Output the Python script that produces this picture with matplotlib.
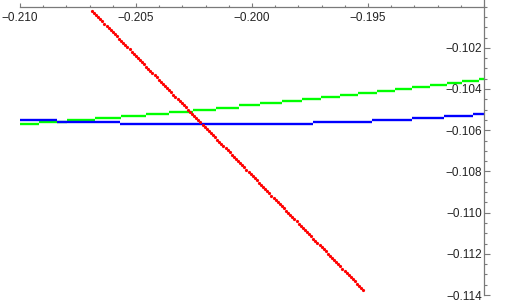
import matplotlib
matplotlib.use("Agg")
import matplotlib.pyplot as plt
from matplotlib.ticker import MultipleLocator

plt.rcParams['font.family'] = ['Liberation Sans', 'DejaVu Sans']

# ---- data ----
# red series (x, y in units of 1e-5)
red_x_e5 = [
    -20690, -20681, -20672, -20663, -20654, -20645, -20636, -20627, -20618, -20609,
    -20600, -20591, -20582, -20573, -20564, -20555, -20546, -20537, -20528, -20519,
    -20510, -20501, -20492, -20483, -20474, -20465, -20456, -20447, -20438, -20429,
    -20420, -20411, -20402, -20393, -20384, -20375, -20366, -20357, -20348, -20339,
    -20330, -20321, -20312, -20303, -20294, -20285, -20276, -20267, -20258, -20249,
    -20240, -20231, -20222, -20213, -20204, -20195, -20186, -20177, -20168, -20159,
    -20150, -20141, -20132, -20123, -20114, -20105, -20096, -20087, -20078, -20069,
    -20060, -20051, -20042, -20033, -20024, -20015, -20006, -19997, -19988, -19979,
    -19970, -19961, -19952, -19943, -19934, -19925, -19916, -19907, -19898, -19889,
    -19880, -19871, -19862, -19853, -19844, -19835, -19826, -19817, -19808, -19799,
    -19790, -19781, -19772, -19763, -19754, -19745, -19736, -19727, -19718, -19709,
    -19700, -19691, -19682, -19673, -19664, -19655, -19646, -19637, -19628, -19619,
    -19610, -19601, -19592, -19583, -19574, -19565, -19556, -19547, -19538, -19529,
    -19520,
]
red_y_e5 = [
    -10020, -10030, -10041, -10051, -10062, -10072, -10083, -10093, -10103, -10114,
    -10124, -10135, -10145, -10156, -10166, -10176, -10187, -10197, -10208, -10218,
    -10229, -10239, -10249, -10260, -10270, -10281, -10291, -10302, -10312, -10322,
    -10333, -10343, -10354, -10364, -10375, -10385, -10395, -10406, -10416, -10427,
    -10437, -10448, -10458, -10468, -10479, -10489, -10500, -10510, -10521, -10531,
    -10542, -10552, -10562, -10573, -10583, -10594, -10604, -10615, -10625, -10635,
    -10646, -10656, -10667, -10677, -10688, -10698, -10708, -10719, -10729, -10740,
    -10750, -10761, -10771, -10781, -10792, -10802, -10813, -10823, -10834, -10844,
    -10854, -10865, -10875, -10886, -10896, -10907, -10917, -10927, -10938, -10948,
    -10959, -10969, -10980, -10990, -11000, -11011, -11021, -11032, -11042, -11053,
    -11063, -11073, -11084, -11094, -11105, -11115, -11126, -11136, -11146, -11157,
    -11167, -11178, -11188, -11199, -11209, -11219, -11230, -11240, -11251, -11261,
    -11272, -11282, -11292, -11303, -11313, -11324, -11334, -11345, -11355, -11365,
    -11376,
]

# blue series: piecewise-constant levels
blue_start = [-0.21000, -0.20841, -0.20569, -0.19737, -0.19483, -0.19310, -0.19172, -0.19047]
blue_end = [-0.20841, -0.20569, -0.19737, -0.19483, -0.19310, -0.19172, -0.19047, -0.19000]
blue_level = [-0.1055, -0.1056, -0.1057, -0.1056, -0.1055, -0.1054, -0.1053, -0.1052]

# green series: piecewise-constant levels
green_start = [-0.21000, -0.20918, -0.20797, -0.20677, -0.20565, -0.20457, -0.20358, -0.20254,
               -0.20155, -0.20056, -0.19966, -0.19871, -0.19784, -0.19703, -0.19621, -0.19543,
               -0.19461, -0.19384, -0.19310, -0.19233, -0.19160, -0.19095, -0.19022]
green_end = green_start[1:] + [-0.19000]
green_level = [-0.1057, -0.1056, -0.1055, -0.1054, -0.1053, -0.1052, -0.1051, -0.1050,
               -0.1049, -0.1048, -0.1047, -0.1046, -0.1045, -0.1044, -0.1043, -0.1042,
               -0.1041, -0.1040, -0.1039, -0.1038, -0.1037, -0.1036, -0.1035]

x_ticks = [-0.210, -0.205, -0.200, -0.195]
x_tick_labels = ['\u22120.210', '\u22120.205', '\u22120.200', '\u22120.195']
y_ticks = [-0.102, -0.104, -0.106, -0.108, -0.110, -0.112, -0.114]
y_tick_labels = ['\u22120.102', '\u22120.104', '\u22120.106', '\u22120.108',
                 '\u22120.110', '\u22120.112', '\u22120.114']

# ---- figure ----
W, H = 506, 304
fig = plt.figure(figsize=(W / 100, H / 100), dpi=100)
ax = fig.add_axes([20 / W, 9 / H, 464 / W, 295 / H])

ax.hlines(green_level, green_start, green_end, colors='#00ff00', lw=1.7)
ax.hlines(blue_level, blue_start, blue_end, colors='#0000ff', lw=1.7)
ax.plot([v * 1e-5 for v in red_x_e5], [v * 1e-5 for v in red_y_e5], 'o',
        color='#ff0000', ms=2.3, mec='none')

ax.set_xlim(-0.210, -0.190)
ax.set_ylim(-0.114, -0.114 + 295 / 20.6 * 0.001)

axis_col = '#7a7a7a'
for s in ['left', 'bottom']:
    ax.spines[s].set_visible(False)
ax.spines['top'].set_position(('data', -0.100))
ax.spines['top'].set_color(axis_col)
ax.spines['right'].set_color(axis_col)
ax.spines['top'].set_linewidth(0.9)
ax.spines['right'].set_linewidth(0.9)

ax.xaxis.set_ticks_position('top')
ax.yaxis.set_ticks_position('right')
ax.set_xticks(x_ticks, labels=x_tick_labels)
ax.set_yticks(y_ticks, labels=y_tick_labels)
ax.xaxis.set_minor_locator(MultipleLocator(0.001))
ax.yaxis.set_minor_locator(MultipleLocator(0.0005))

ax.tick_params(axis='x', which='major', direction='out', length=3.0, width=0.8,
               color=axis_col, pad=-7.2, labelsize=8.5, labelcolor='#222222')
ax.tick_params(axis='x', which='minor', direction='out', length=1.5, width=0.8, color=axis_col)
ax.tick_params(axis='y', which='major', direction='out', length=4.3, width=0.8,
               color=axis_col, pad=-5.8, labelsize=8.5, labelcolor='#222222')
ax.tick_params(axis='y', which='minor', direction='out', length=2.2, width=0.8, color=axis_col)

plt.setp(ax.get_xticklabels(), va='top')
plt.setp(ax.get_yticklabels(), ha='right')

fig.savefig('out.png', dpi=100)
